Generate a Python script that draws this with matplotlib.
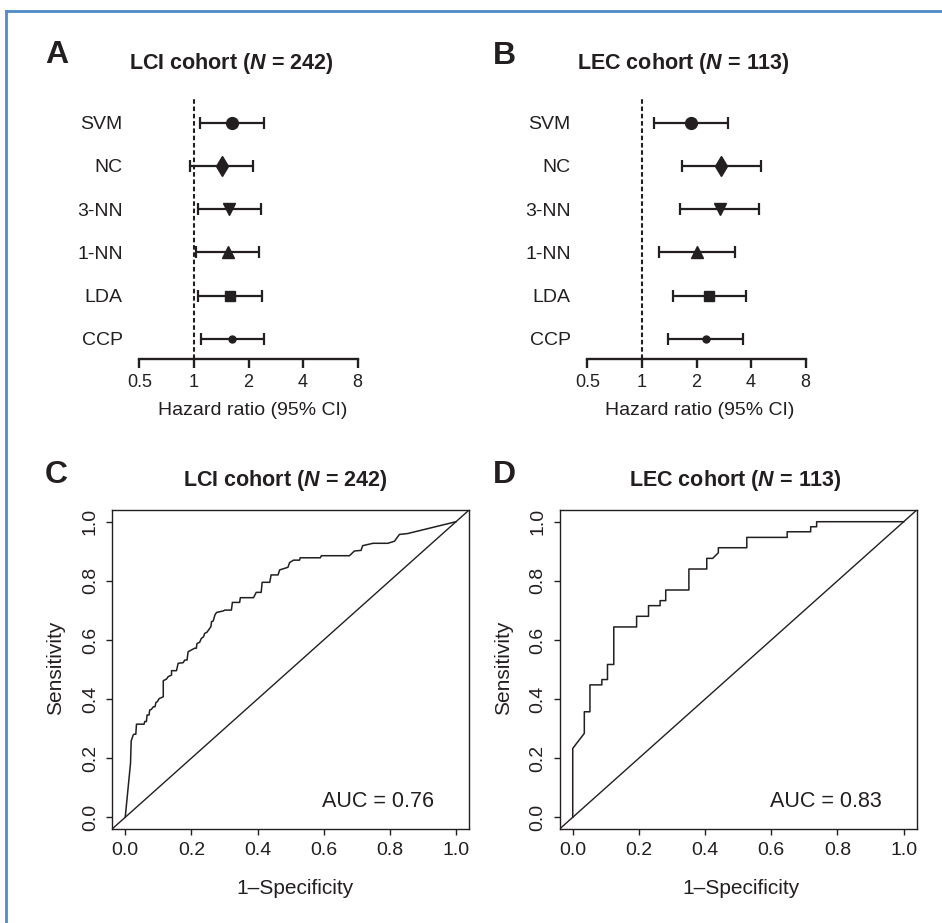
import numpy as np
import matplotlib
matplotlib.use("Agg")
import matplotlib.pyplot as plt
from matplotlib.lines import Line2D
from matplotlib.ticker import NullLocator

plt.rcParams["font.family"] = ["Liberation Sans", "DejaVu Sans"]
plt.rcParams["mathtext.fontset"] = "custom"
plt.rcParams["mathtext.it"] = "Liberation Sans:italic:bold"
plt.rcParams["mathtext.rm"] = "Liberation Sans:bold"

# hazard ratios (95% CI) per classifier
methods = ["SVM", "NC", "3-NN", "1-NN", "LDA", "CCP"]
lci_hr = [1.63, 1.42, 1.57, 1.54, 1.59, 1.63]
lci_lo = [1.08, 0.955, 1.06, 1.03, 1.06, 1.09]
lci_hi = [2.45, 2.13, 2.35, 2.29, 2.38, 2.45]
lec_hr = [1.87, 2.74, 2.68, 2.00, 2.35, 2.25]
lec_lo = [1.17, 1.66, 1.63, 1.25, 1.475, 1.40]
lec_hi = [3.00, 4.52, 4.45, 3.24, 3.77, 3.61]
hr_ticks = [0.5, 1, 2, 4, 8]
hr_ticklabels = ["0.5", "1", "2", "4", "8"]

# ROC curves
lci_fpr = [0, 0.016, 0.018, 0.024, 0.026, 0.032, 0.034, 0.057, 0.059, 0.064, 0.066, 0.072,
           0.074, 0.079, 0.085, 0.090, 0.093, 0.097, 0.103, 0.110, 0.115, 0.115, 0.125, 0.130,
           0.140, 0.140, 0.155, 0.160, 0.175, 0.180, 0.187, 0.190, 0.200, 0.210, 0.215, 0.217,
           0.225, 0.230, 0.237, 0.240, 0.247, 0.254, 0.259, 0.261, 0.266, 0.271, 0.276, 0.296,
           0.301, 0.321, 0.324, 0.346, 0.348, 0.388, 0.396, 0.411, 0.414, 0.437, 0.441, 0.462,
           0.467, 0.487, 0.492, 0.497, 0.509, 0.527, 0.529, 0.590, 0.593, 0.678, 0.693, 0.713,
           0.718, 0.749, 0.794, 0.814, 0.829, 0.854, 1.0]
lci_tpr = [0, 0.183, 0.258, 0.278, 0.281, 0.281, 0.315, 0.315, 0.324, 0.324, 0.346, 0.346,
           0.363, 0.365, 0.374, 0.374, 0.389, 0.391, 0.402, 0.405, 0.408, 0.462, 0.468, 0.476,
           0.481, 0.496, 0.496, 0.521, 0.523, 0.532, 0.532, 0.560, 0.566, 0.572, 0.572, 0.588,
           0.592, 0.605, 0.611, 0.622, 0.626, 0.637, 0.645, 0.662, 0.664, 0.684, 0.693, 0.698,
           0.701, 0.701, 0.727, 0.727, 0.743, 0.743, 0.761, 0.761, 0.795, 0.795, 0.820, 0.820,
           0.837, 0.844, 0.846, 0.862, 0.870, 0.870, 0.878, 0.878, 0.885, 0.885, 0.901, 0.903,
           0.919, 0.927, 0.927, 0.934, 0.957, 0.960, 1.0]
lec_fpr = [0, 0, 0.035, 0.035, 0.052, 0.052, 0.088, 0.088, 0.105, 0.105, 0.124, 0.124,
           0.193, 0.193, 0.229, 0.229, 0.264, 0.264, 0.281, 0.281, 0.351, 0.351, 0.405, 0.405,
           0.423, 0.44, 0.44, 0.526, 0.526, 0.648, 0.648, 0.719, 0.719, 0.737, 0.737, 1.0]
lec_tpr = [0, 0.233, 0.284, 0.357, 0.357, 0.448, 0.448, 0.466, 0.466, 0.517, 0.517, 0.644,
           0.644, 0.68, 0.68, 0.716, 0.716, 0.733, 0.733, 0.769, 0.769, 0.84, 0.84, 0.876,
           0.876, 0.895, 0.912, 0.912, 0.947, 0.947, 0.966, 0.966, 0.983, 0.983, 1.0, 1.0]
roc_ticks = [0.0, 0.2, 0.4, 0.6, 0.8, 1.0]
roc_ticklabels = ["0.0", "0.2", "0.4", "0.6", "0.8", "1.0"]

W, H = 942, 923
INK = "#231f20"
marks = ["o", "d", "v", "^", "s", "o"]
msizes = [8.5, 10, 8, 8, 7.5, 5]

fig = plt.figure(figsize=(W / 100, H / 100), dpi=100)


def fx(px):
    return px / W


def fy(py):
    return 1 - py / H


def forest(left, right, hr, lo, hi):
    ax = fig.add_axes([fx(left), fy(359.3), fx(right - left), (359.3 - 98.3) / H])
    ys = np.arange(len(methods), 0, -1)
    ax.axvline(1, color=INK, lw=1.5, ls=(0, (2.2, 1.3)), zorder=1)
    for yi, h, l, u, m, s in zip(ys, hr, lo, hi, marks, msizes):
        ax.errorbar([h], [yi], xerr=[[h - l], [u - h]], fmt=m, ms=s, color=INK,
                    elinewidth=1.6, capsize=4.3, capthick=1.6, zorder=3)
    ax.set_xscale("log", base=2)
    ax.set_xlim(0.5, 8)
    ax.set_ylim(0.53, 6.56)
    ax.set_xticks(hr_ticks)
    ax.set_xticklabels(hr_ticklabels)
    ax.xaxis.set_minor_locator(NullLocator())
    ax.set_yticks(ys)
    ax.set_yticklabels(methods)
    for s in ["top", "right", "left"]:
        ax.spines[s].set_visible(False)
    ax.spines["bottom"].set_linewidth(1.7)
    ax.spines["bottom"].set_color(INK)
    ax.tick_params(axis="x", length=6.5, width=1.7, color=INK, labelsize=13, pad=4, labelcolor=INK)
    ax.tick_params(axis="y", length=0, pad=12, labelsize=14, labelcolor=INK)
    ax.patch.set_visible(False)
    return ax


def roc(left, right, fpr, tpr, auc):
    ax = fig.add_axes([fx(left), fy(829.1), fx(right - left), (829.1 - 509.9) / H])
    ax.plot(fpr, tpr, color=INK, lw=1.1)
    ax.axline((0, 0), slope=1, color=INK, lw=1.0)
    ax.set_xlim(-0.04, 1.04)
    ax.set_ylim(-0.04, 1.04)
    ax.set_xticks(roc_ticks)
    ax.set_xticklabels(roc_ticklabels)
    ax.set_yticks(roc_ticks)
    ax.set_yticklabels(roc_ticklabels, rotation=90, va="center")
    for s in ax.spines.values():
        s.set_linewidth(1.0)
        s.set_color(INK)
    ax.tick_params(length=4.5, width=1.0, color=INK, labelsize=14, pad=5, labelcolor=INK)
    ax.text(0.765, 0.053, "AUC = " + auc, fontsize=15.5, color=INK, ha="center", va="center")
    return ax


forest(139.3, 357.7, lci_hr, lci_lo, lci_hi)
forest(587.3, 805.7, lec_hr, lec_lo, lec_hi)
roc(112.0, 469.2, lci_fpr, lci_tpr, "0.76")
roc(559.5, 916.9, lec_fpr, lec_tpr, "0.83")

# panel letters and titles
for letter, x, y in [("A", 56.7, 55), ("B", 504.3, 56), ("C", 56.7, 475), ("D", 504.3, 475)]:
    fig.text(fx(x), fy(y), letter, fontsize=23, fontweight="bold", color=INK, ha="center", va="center")
titles = [(r"LCI cohort ($N$ = 242)", 231, 64), (r"LEC cohort ($N$ = 113)", 683.5, 64),
          (r"LCI cohort ($N$ = 242)", 285, 480.5), (r"LEC cohort ($N$ = 113)", 735.5, 480.5)]
for t, x, y in titles:
    fig.text(fx(x), fy(y), t, fontsize=15.5, fontweight="bold", color=INK, ha="center", va="center")

# axis labels
for x in [252.5, 700]:
    fig.text(fx(x), fy(411), "Hazard ratio (95% CI)", fontsize=14, color=INK, ha="center", va="center")
for x in [295.5, 741.5]:
    fig.text(fx(x), fy(888), "1\u2013Specificity", fontsize=15, color=INK, ha="center", va="center")
for x in [56, 503.5]:
    fig.text(fx(x), fy(668), "Sensitivity", fontsize=15, color=INK, ha="center", va="center", rotation=90)

# blue frame
BLUE = "#4f8bc9"
fig.add_artist(Line2D([fx(6), 1.0], [fy(11), fy(11)], color=BLUE, lw=2.0))
fig.add_artist(Line2D([fx(6), fx(6)], [fy(11), 0.0], color=BLUE, lw=2.0))

fig.savefig("out.png", dpi=100)
